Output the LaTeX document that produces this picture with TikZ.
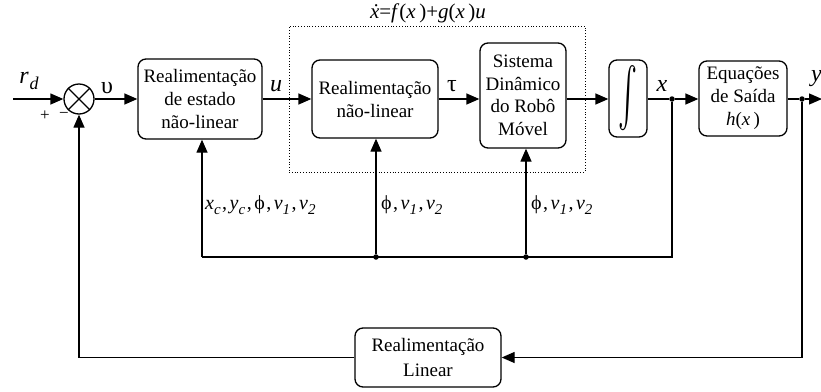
\documentclass[tikz,border=0pt]{standalone}
\usepackage{fontspec}
\setmainfont{Liberation Serif}
\usetikzlibrary{arrows.meta}
\newcommand\mi[1]{\textit{#1}}
\newcommand\sbs[1]{\raisebox{-0.6ex}{\fontsize{15}{15}\selectfont\textit{#1}}}
\newcommand\cm{\kern1.5pt,\kern2.5pt}
\begin{document}
\begin{tikzpicture}[x=1pt,y=-1pt,
  blk/.style={draw, line width=1.3pt, rounded corners=8pt, align=center, inner sep=0pt,
    font=\fontsize{19}{23}\selectfont},
  ln/.style={line width=1.3pt},
  arr/.style={line width=1.3pt, -{Triangle[length=13pt,width=11pt]}},
  dot/.style={circle, fill, inner sep=0pt, minimum size=5.5pt},
  lab/.style={inner sep=0pt, font=\fontsize{24}{28}\selectfont},
  fb/.style={inner sep=0pt, anchor=west, font=\fontsize{20}{24}\selectfont}]
\useasboundingbox (0,0) rectangle (821,391);

% dotted system box
\node[draw, dotted, line width=0.8pt, minimum width=296pt, minimum height=146pt, inner sep=0pt] (sys) at (437,99) {};

% summing junction
\node[circle, draw, line width=1.3pt, minimum size=30pt, inner sep=0pt] (sum) at (79,99) {};
\draw[ln] (sum.north west) -- (sum.south east);
\draw[ln] (sum.north east) -- (sum.south west);

% blocks
\node[blk, minimum width=124pt, minimum height=80pt] (b1) at (200,99) {Realimentação\\de estado\\não-linear};
\node[blk, minimum width=126pt, minimum height=78pt] (b2) at (375,99) {Realimentação\\não-linear};
\node[blk, minimum width=86pt, minimum height=105pt, font=\fontsize{19}{22.5}\selectfont] (b3) at (523,95.5) {Sistema\\Dinâmico\\do Robô\\Móvel};
\node[blk, minimum width=38pt, minimum height=77pt] (int) at (628,98.5) {\resizebox{19pt}{58pt}{$\int$}};
\node[blk, minimum width=88pt, minimum height=75pt] (eq) at (743,98.5) {Equações\\de Saída\\\mi{h}(\mi{x}\,)};
\node[blk, minimum width=146pt, minimum height=59pt, font=\fontsize{19}{25}\selectfont] (lin) at (428,357.5) {Realimentação\\Linear};

% junction points
\node[dot] (xd) at (672,99) {};
\node[dot] (yd) at (802,99) {};
\node[dot] (d1) at (376,257) {};
\node[dot] (d2) at (526,257) {};
\coordinate (in) at (13,99);
\coordinate (out) at (822,99);
\coordinate (bl) at (202,257);

% forward path
\draw[arr] (in) -- (sum.west);
\draw[arr] (sum.east) -- (b1.west);
\draw[arr] (b1.east) -- (b2.west);
\draw[arr] (b2.east) -- (b2.east -| b3.west);
\draw[arr] (b3.east |- b2.east) -- (int.west |- b2.east);
\draw[ln] (int.east |- xd) -- (xd);
\draw[arr] (xd) -- (eq.west |- xd);
\draw[ln] (eq.east |- yd) -- (yd);
\draw[arr] (yd) -- (out);

% state feedback bus
\draw[ln] (xd) -- (xd |- bl) -- (bl);
\draw[arr] (bl) -- (bl |- b1.south);
\draw[arr] (d1) -- (d1 |- b2.south);
\draw[arr] (d2) -- (d2 |- b3.south);

% outer loop
\draw[arr] (yd) -- (yd |- lin.east) -- (lin.east);
\draw[arr] (lin.west) -- (lin.west -| sum.south) -- (sum.south);

% labels
\node[lab] (lrd) at (29,81) {\mi{r}\kern1pt\raisebox{-0.6ex}{\fontsize{18}{18}\selectfont\textit{d}}};
\node[lab] (lup) at (107,88) {υ};
\node[lab] (lu) at (276,86) {\mi{u}};
\node[lab] (ltau) at (452,86) {τ};
\node[lab] (lx) at (662,86) {\mi{x}};
\node[lab, anchor=west] (ly) at (811,79) {\mi{y}};
\node[inner sep=0pt, font=\fontsize{17}{17}\selectfont] (lp) at (45,116) {+};
\node[inner sep=0pt, font=\fontsize{17}{17}\selectfont] (lm) at (64,115) {−};
\node[inner sep=0pt, font=\fontsize{21}{24}\selectfont] (lf) at (428,13) {\mi{\.x}=\mi{f}(\mi{x}\,)+\mi{g}(\mi{x}\,)\mi{u}};
\node[fb] (f1) at (205,205) {\mi{x}\sbs{c}\cm\mi{y}\sbs{c}\cm ϕ\cm\mi{v}\sbs{1}\cm\mi{v}\sbs{2}};
\node[fb] (f2) at (381,205) {ϕ\cm\mi{v}\sbs{1}\cm\mi{v}\sbs{2}};
\node[fb] (f3) at (531,205) {ϕ\cm\mi{v}\sbs{1}\cm\mi{v}\sbs{2}};
\end{tikzpicture}
\end{document}
